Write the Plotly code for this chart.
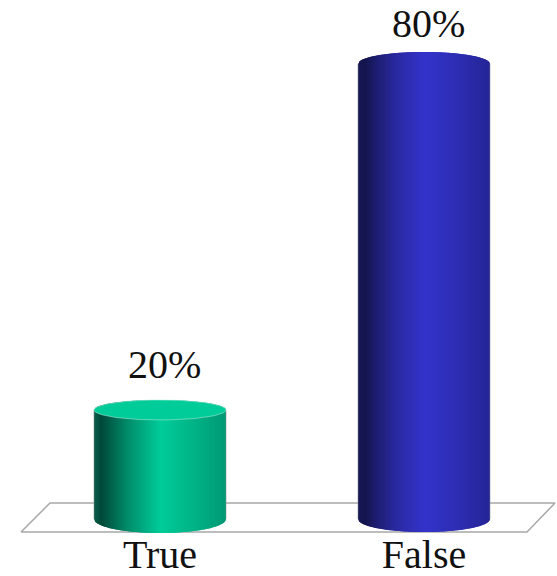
import numpy as np
import plotly.graph_objects as go

# Chart data
categories = ["True", "False"]
percent_values = [20, 80]
value_labels = ["20%", "80%"]

# Shading stops across each cylinder: (fraction of width, RGB)
GREEN_STOPS = [(0, (10, 92, 72)), (0.05, (0, 72, 56)), (0.25, (0, 140, 106)), (0.5, (0, 204, 153)),
               (0.78, (0, 176, 132)), (1, (0, 152, 116))]
BLUE_STOPS = [(0, (22, 22, 84)), (0.05, (20, 20, 78)), (0.15, (30, 30, 118)), (0.3, (42, 42, 164)),
              (0.5, (51, 51, 204)), (0.78, (44, 44, 176)), (1, (36, 36, 150))]

styles = [
    dict(stops=GREEN_STOPS, cap="#00cc99", top_ry=10, base_ry=14, label_lift=45),
    dict(stops=BLUE_STOPS, cap=None, top_ry=12, base_ry=13, label_lift=40),
]

W, H = 557, 576
BOTTOM_MARGIN = 40
PX_PER_CATEGORY = 264
FIRST_CATEGORY_PX = 160
PX_PER_PERCENT = 5.767
ZERO_PX = 525.3
HALF_WIDTH = 66 / PX_PER_CATEGORY
BASE_LIFT = 6.3 / PX_PER_PERCENT

x_range = [-FIRST_CATEGORY_PX / PX_PER_CATEGORY, (W - FIRST_CATEGORY_PX) / PX_PER_CATEGORY]
y_range = [(ZERO_PX - (H - BOTTOM_MARGIN)) / PX_PER_PERCENT, ZERO_PX / PX_PER_PERCENT]


def shade(stops, t):
    fr = [s[0] for s in stops]
    rgb = [np.interp(t, fr, [s[1][i] for s in stops]) for i in range(3)]
    return "rgb({:.0f},{:.0f},{:.0f})".format(*rgb)


def arc(u):
    # Half-ellipse height for u in [-1, 1]
    return np.sqrt(np.clip(1 - u ** 2, 0, 1))


fig = go.Figure()

# Floor plane behind the cylinders
floor_y = [ZERO_PX - 532, ZERO_PX - 503, ZERO_PX - 503, ZERO_PX - 532, ZERO_PX - 532]
floor_x = [21, 50, 555, 527, 21]
fig.add_trace(go.Scatter(
    x=[(p - FIRST_CATEGORY_PX) / PX_PER_CATEGORY for p in floor_x],
    y=[p / PX_PER_PERCENT for p in floor_y],
    mode="lines", line=dict(color="#a8a8a8", width=1.5),
    hoverinfo="skip", showlegend=False,
))

# Each cylinder is a run of narrow overlapping strips, then a top cap
N_STRIPS = 132
for i, (value, style) in enumerate(zip(percent_values, styles)):
    top_ry = style["top_ry"] / PX_PER_PERCENT
    base_ry = style["base_ry"] / PX_PER_PERCENT
    edges = np.linspace(-1, 1, N_STRIPS + 1)
    for k in range(N_STRIPS):
        u = np.array([edges[k], edges[min(k + 2, N_STRIPS)]])
        us = np.linspace(u[0], u[1], 3)
        top = value + top_ry * arc(us)
        bottom = BASE_LIFT - base_ry * arc(us)
        fig.add_trace(go.Scatter(
            x=np.r_[i + us * HALF_WIDTH, i + us[::-1] * HALF_WIDTH],
            y=np.r_[top, bottom[::-1]],
            mode="lines", line=dict(width=0), fill="toself",
            fillcolor=shade(style["stops"], (edges[k] + 1) / 2),
            hoverinfo="skip", showlegend=False,
        ))
    # Thin grey edge down both sides
    for side in (-1, 1):
        fig.add_trace(go.Scatter(
            x=[i + side * HALF_WIDTH] * 2, y=[value, BASE_LIFT],
            mode="lines", line=dict(color="rgba(130,140,140,0.55)", width=1),
            hoverinfo="skip", showlegend=False,
        ))
    theta = np.linspace(0, 2 * np.pi, 90)
    cap_x = i + HALF_WIDTH * np.cos(theta)
    cap_y = value + top_ry * np.sin(theta)
    if style["cap"]:
        fig.add_trace(go.Scatter(
            x=cap_x, y=cap_y, mode="lines", line=dict(color="rgba(170,235,215,0.7)", width=0.8),
            fill="toself", fillcolor=style["cap"], hoverinfo="skip", showlegend=False,
        ))
    fig.add_annotation(
        x=i, y=value, text=value_labels[i], showarrow=False, yanchor="middle",
        xshift=4, yshift=style["label_lift"],
        font=dict(family="Liberation Serif", size=40, color="#111111"),
    )

fig.update_layout(
    width=W, height=H, margin=dict(l=0, r=0, t=0, b=BOTTOM_MARGIN),
    paper_bgcolor="white", plot_bgcolor="white",
    xaxis=dict(
        range=x_range, tickmode="array", tickvals=[0, 1], ticktext=categories,
        showgrid=False, zeroline=False, showline=False, ticks="", ticklabelstandoff=-9,
        automargin=False,
        tickfont=dict(family="Liberation Serif", size=40, color="#111111"),
    ),
    yaxis=dict(range=y_range, visible=False),
)

fig.write_html("out.html")
